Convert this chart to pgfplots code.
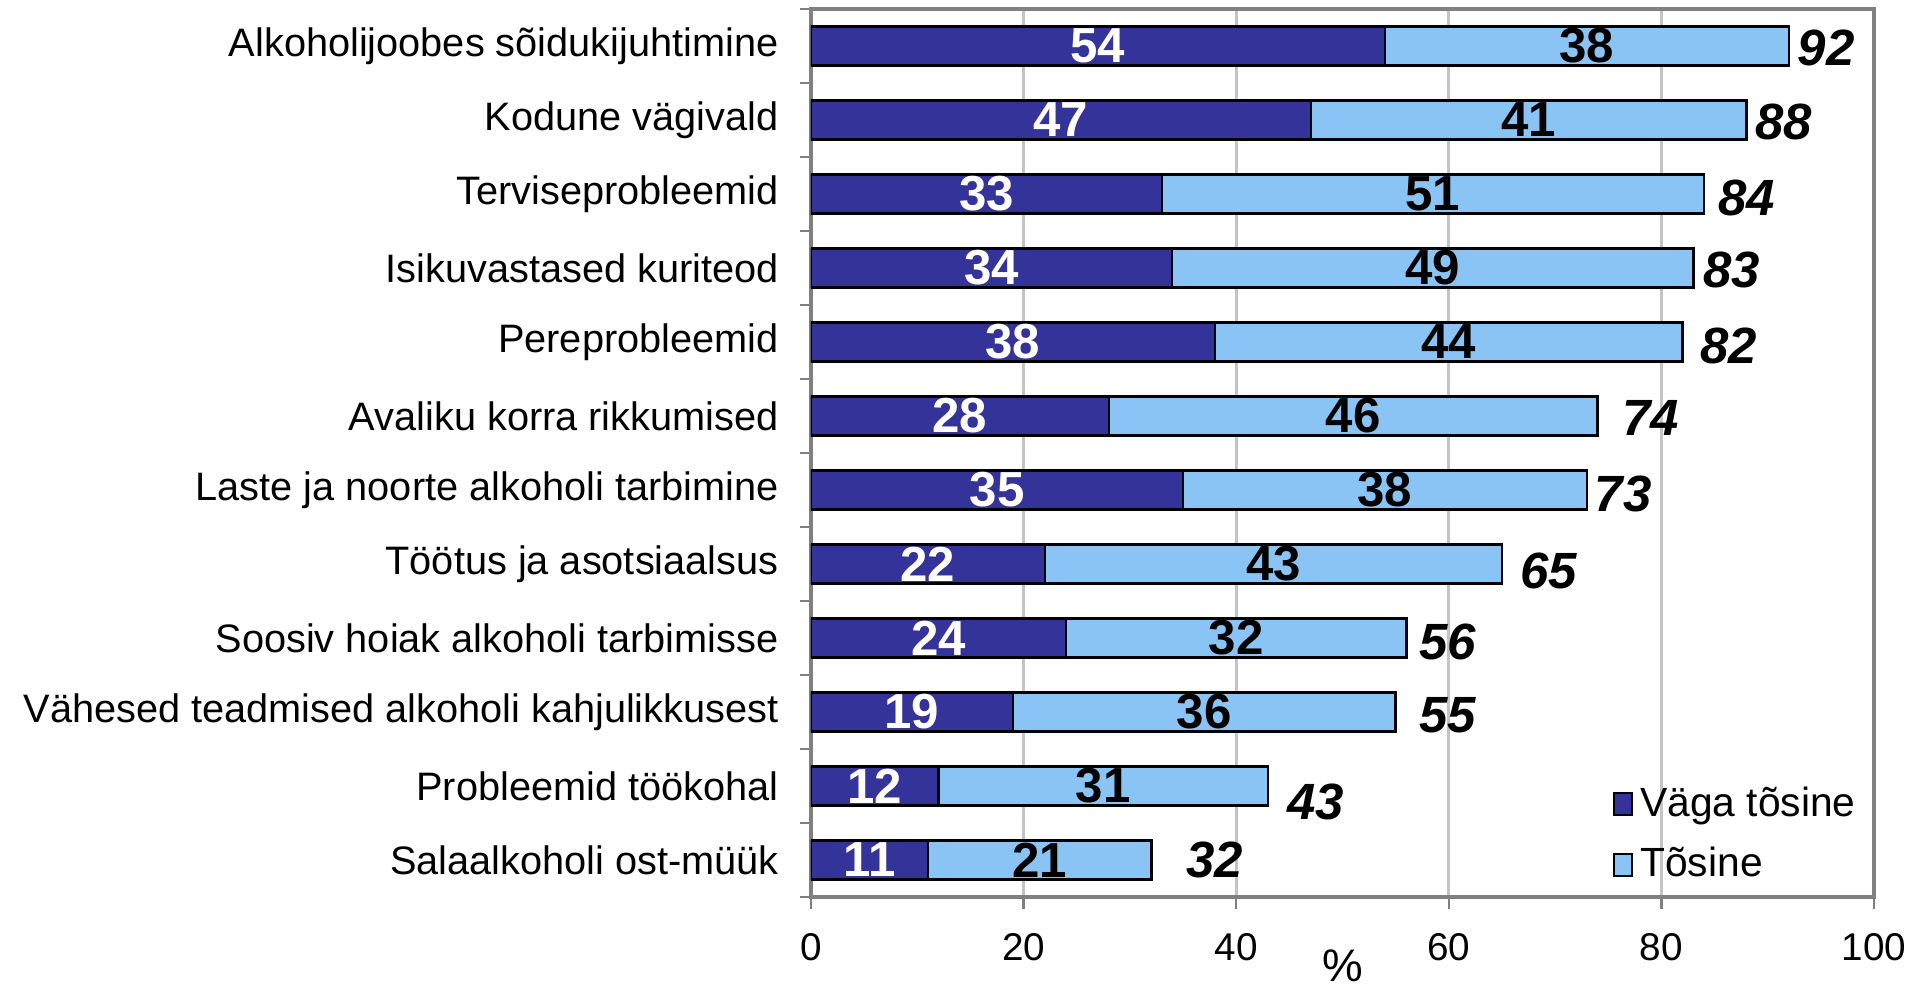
\documentclass[border=0pt]{standalone}
\usepackage{fontspec}
\setmainfont{Liberation Sans}
\usepackage{pgfplots}
\usepackage{pgfplotstable}
\pgfplotsset{compat=1.18}
\definecolor{vaga}{HTML}{333399}
\definecolor{tos}{HTML}{8AC4F4}
\definecolor{gridgray}{HTML}{C4C4C4}
\definecolor{axisgray}{HTML}{808080}

% pos = row from top; xlab/ylab = where the total sits
\pgfplotstableread{
pos vaga tos total xlab ylab
1  54 38 92 95.5 1.02
2  47 41 88 91.5 2.02
3  33 51 84 88.0 3.05
4  34 49 83 86.6 4.03
5  38 44 82 86.3 5.05
6  28 46 74 79.0 6.03
7  35 38 73 76.4 7.05
8  22 43 65 69.4 8.10
9  24 32 56 59.9 9.05
10 19 36 55 59.9 10.05
11 12 31 43 47.5 11.21
12 11 21 32 38.0 12.0
}\survey

\begin{document}
\begin{tikzpicture}
\begin{axis}[
    scale only axis,
    width=10.63cm, height=8.88cm,
    xbar, bar width=0.52, bar shift=0pt,
    xmin=0, xmax=100, ymin=0.5, ymax=12.5,
    y dir=reverse,
    xtick={0,20,...,100},
    ytick={1,...,12},
    yticklabels={Alkoholijoobes sõidukijuhtimine, Kodune vägivald, Terviseprobleemid,
        Isikuvastased kuriteod, Pereprobleemid, Avaliku korra rikkumised,
        Laste ja noorte alkoholi tarbimine, Töötus ja asotsiaalsus,
        Soosiv hoiak alkoholi tarbimisse, Vähesed teadmised alkoholi kahjulikkusest,
        Probleemid töökohal, Salaalkoholi ost-müük},
    minor ytick={0.5,1.5,...,12.5},
    xtick pos=bottom, ytick pos=left,
    tick align=outside,
    major tick length=0.12cm,
    minor tick length=0.11cm,
    every major y tick/.style={draw=none},
    every minor y tick/.style={draw=axisgray, line width=0.7pt},
    every major x tick/.style={draw=axisgray, line width=0.7pt},
    xmajorgrids=true,
    grid style={draw=gridgray, line width=0.8pt},
    axis line style={draw=axisgray, line width=0.9pt},
    /pgf/number format/assume math mode=true,
    xticklabel style={font=\fontsize{11}{13}\selectfont, yshift=-0.12cm},
    yticklabel style={font=\fontsize{11.3}{14}\selectfont, xshift=-0.08cm},
    xlabel={\%},
    xlabel style={at={(axis description cs:0.5,0)}, anchor=north, yshift=-0.4cm,
        font=\fontsize{13}{15}\selectfont},
    legend style={at={(1.0,0.0)}, anchor=south east, draw=none, fill=none,
        row sep=0.12cm, font=\fontsize{11.6}{14}\selectfont},
    legend cell align=left,
    reverse legend,
]
% light bar is the full length, dark bar drawn over it
\addplot[fill=tos, draw=black, line width=0.8pt,
    legend image code/.code={\draw[fill=tos, draw=black, line width=0.6pt] (0cm,-0.11cm) rectangle (0.18cm,0.11cm);}]
    table[x=total, y=pos] {\survey};
\addlegendentry{Tõsine}
\addplot[fill=vaga, draw=black, line width=0.6pt,
    legend image code/.code={\draw[fill=vaga, draw=black, line width=0.6pt] (0cm,-0.11cm) rectangle (0.18cm,0.11cm);}]
    table[x=vaga, y=pos] {\survey};
\addlegendentry{Väga tõsine}

% numbers inside the bars
\addplot[only marks, mark=none, forget plot, point meta=explicit,
    nodes near coords,
    nodes near coords style={anchor=center, text=white,
        font=\fontsize{14}{16}\selectfont\bfseries}]
    table[x expr=\thisrow{vaga}/2, y=pos, meta=vaga] {\survey};
\addplot[only marks, mark=none, forget plot, point meta=explicit,
    nodes near coords,
    nodes near coords style={anchor=center, text=black,
        font=\fontsize{14}{16}\selectfont\bfseries}]
    table[x expr=\thisrow{vaga}+\thisrow{tos}/2, y=pos, meta=tos] {\survey};
% totals
\addplot[only marks, mark=none, forget plot, point meta=explicit,
    nodes near coords,
    nodes near coords style={anchor=center, text=black,
        font=\fontsize{14.5}{16}\selectfont\bfseries\itshape}]
    table[x=xlab, y=ylab, meta=total] {\survey};
\end{axis}
\pgfresetboundingbox
\path (-8.11cm,-0.88cm) rectangle (11.13cm,8.97cm);
\end{tikzpicture}
\end{document}
